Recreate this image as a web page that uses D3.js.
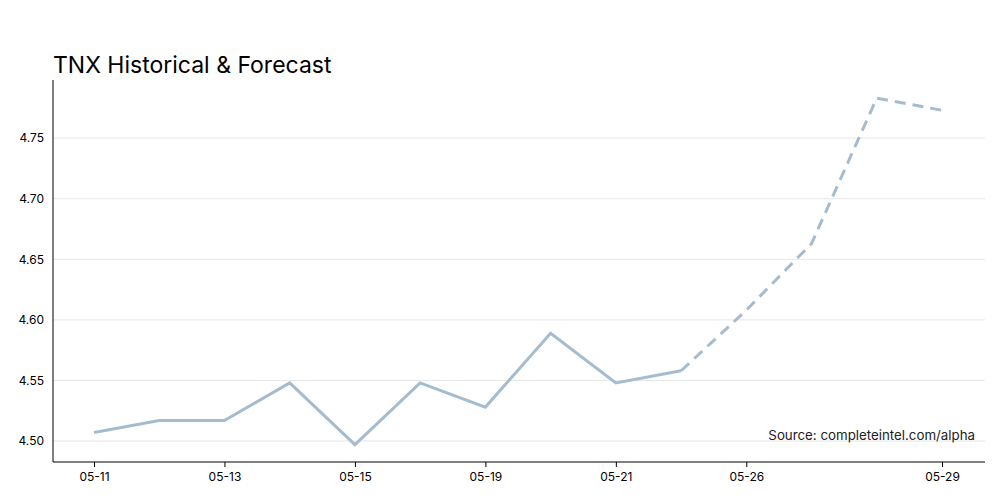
<!DOCTYPE html>
<html><head><meta charset="utf-8">
<script src="https://cdn.jsdelivr.net/npm/d3@7"></script>
<style>body{margin:0;background:#fff;font-family:Inter,"Noto Sans",sans-serif}</style>
</head><body><svg id="c" width="1000" height="500"></svg>
<script>
const dates = ["05-11","05-12","05-13","05-14","05-15","05-16","05-19","05-20","05-21","05-22","05-26","05-27","05-28","05-29"];
const values = [4.507,4.517,4.517,4.548,4.497,4.548,4.528,4.589,4.548,4.558,4.608,4.663,4.783,4.773];
const forecastStart = 9;
const yTicks = [4.50,4.55,4.60,4.65,4.70,4.75];
const tickLabels = ["05-11","05-13","05-15","05-19","05-21","05-26","05-29"];

const svg = d3.select("#c");
const L=53,R=985,T=80,B=462;
const x = d3.scalePoint().domain(dates).range([94,942]);
const y = d3.scaleLinear().domain([4.4827,4.798]).range([B,T]);

svg.append("g").selectAll("line").data(yTicks).join("line")
  .attr("x1",L).attr("x2",R).attr("y1",d=>y(d)).attr("y2",d=>y(d))
  .attr("stroke","#e6e6e6").attr("stroke-width",1);

const ya = svg.append("g").attr("transform",`translate(${L},0)`)
  .call(d3.axisLeft(y).tickValues(yTicks).tickFormat(d3.format(".2f")).tickSize(0).tickPadding(9));
ya.select(".domain").attr("stroke","#000").attr("d",`M0,${T}V${B}`);
ya.selectAll("text").attr("font-size",12).attr("fill","#000").attr("font-family","Inter,sans-serif");

const xa = svg.append("g").attr("transform",`translate(0,${B})`)
  .call(d3.axisBottom(x).tickValues(tickLabels).tickSize(5).tickPadding(5));
xa.select(".domain").attr("stroke","#000").attr("d",`M${L},0H${R}`);
xa.selectAll("text").attr("font-size",12).attr("fill","#000").attr("font-family","Inter,sans-serif");

const line = d3.line().x((d,i)=>x(d.date)).y(d=>y(d.v));
const pts = dates.map((d,i)=>({date:d,v:values[i]}));
svg.append("path").datum(pts.slice(0,forecastStart+1)).attr("d",line)
  .attr("fill","none").attr("stroke","#a5bccf").attr("stroke-width",3);
svg.append("path").datum(pts.slice(forecastStart)).attr("d",line)
  .attr("fill","none").attr("stroke","#a5bccf").attr("stroke-width",3).attr("stroke-dasharray","11,7");

svg.append("text").attr("x",L).attr("y",73).attr("font-size",23).attr("fill","#000").text("TNX Historical & Forecast");
svg.append("text").attr("x",975).attr("y",440).attr("text-anchor","end").attr("font-size",13.3).attr("fill","#222").text("Source: completeintel.com/alpha");
</script></body></html>
